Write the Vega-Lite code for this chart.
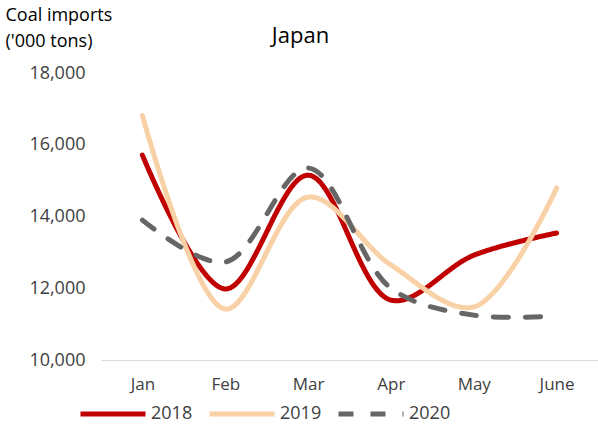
{
  "$schema": "https://vega.github.io/schema/vega-lite/v6.json",
  "width": 497,
  "height": 287,
  "autosize": "none",
  "padding": {"left": 101, "top": 73, "right": 0, "bottom": 66},
  "background": "white",
  "config": {"font": "Open Sans", "view": {"stroke": null}},
  "title": {"text": "Japan", "anchor": "middle", "dx": -49, "offset": -64, "fontSize": 22, "fontWeight": "normal", "color": "#000000", "baseline": "bottom"},
  "data": {"values": [
    {"month": "Jan", "year": "2018", "value": 15710},
    {"month": "Feb", "year": "2018", "value": 11980},
    {"month": "Mar", "year": "2018", "value": 15150},
    {"month": "Apr", "year": "2018", "value": 11670},
    {"month": "May", "year": "2018", "value": 12920},
    {"month": "June", "year": "2018", "value": 13540},
    {"month": "Jan", "year": "2019", "value": 16820},
    {"month": "Feb", "year": "2019", "value": 11420},
    {"month": "Mar", "year": "2019", "value": 14540},
    {"month": "Apr", "year": "2019", "value": 12650},
    {"month": "May", "year": "2019", "value": 11480},
    {"month": "June", "year": "2019", "value": 14790},
    {"month": "Jan", "year": "2020", "value": 13900},
    {"month": "Feb", "year": "2020", "value": 12730},
    {"month": "Mar", "year": "2020", "value": 15350},
    {"month": "Apr", "year": "2020", "value": 12000},
    {"month": "May", "year": "2020", "value": 11250},
    {"month": "June", "year": "2020", "value": 11230}
  ]},
  "mark": {"type": "line", "interpolate": "catmull-rom", "strokeWidth": 5, "strokeCap": "round"},
  "encoding": {
    "x": {"field": "month", "type": "ordinal", "sort": ["Jan", "Feb", "Mar", "Apr", "May", "June"],
      "scale": {"type": "point", "padding": 0.5},
      "axis": {"title": null, "labelAngle": 0, "labelFontSize": 17, "labelColor": "#404040", "labelPadding": 16, "ticks": false, "domainColor": "#d9d9d9", "domainWidth": 1, "grid": false}},
    "y": {"field": "value", "type": "quantitative",
      "scale": {"domain": [10000, 18000], "nice": false, "zero": false},
      "axis": {"values": [10000, 12000, 14000, 16000, 18000], "format": ",d", "labelFontSize": 18, "labelColor": "#404040", "labelPadding": 16, "ticks": false, "domain": false, "grid": false,
        "title": ["Coal imports", "('000 tons)"], "titleAngle": 0, "titleAlign": "left", "titleBaseline": "top", "titleX": -96, "titleY": -67, "titleFontSize": 18, "titleFontWeight": "normal", "titleColor": "#000000", "titleLineHeight": 26}},
    "color": {"field": "year", "type": "nominal",
      "scale": {"domain": ["2018", "2019", "2020"], "range": ["#C00000", "#F9D1A6", "#666666"]},
      "legend": {"title": null, "orient": "none", "legendX": -23, "legendY": 306, "padding": 0, "direction": "horizontal", "symbolType": "stroke", "symbolSize": 4225, "symbolStrokeWidth": 5, "labelFontSize": 18, "labelColor": "#404040", "labelOffset": 3, "columnPadding": 6}},
    "strokeDash": {"field": "year", "type": "nominal",
      "scale": {"domain": ["2018", "2019", "2020"], "range": [[1, 0], [1, 0], [15, 17]]},
      "legend": {"title": null, "orient": "none", "legendX": -23, "legendY": 306, "padding": 0, "direction": "horizontal", "symbolType": "stroke", "symbolSize": 4225, "symbolStrokeWidth": 5, "labelFontSize": 18, "labelColor": "#404040", "labelOffset": 3, "columnPadding": 6}}
  }
}
